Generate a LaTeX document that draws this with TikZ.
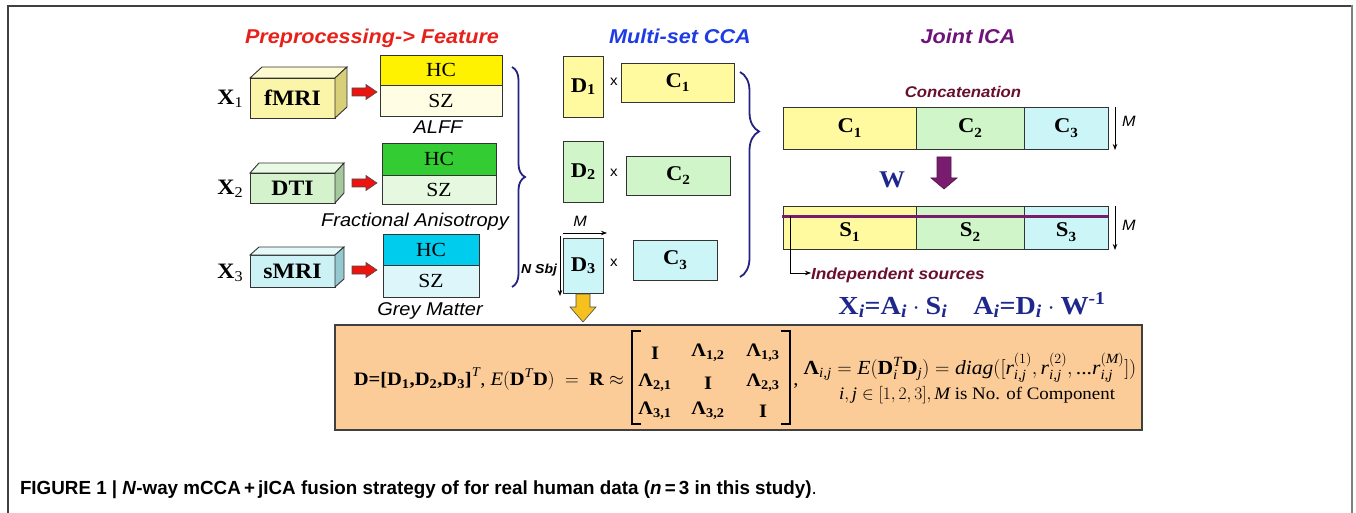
\RequirePackage{fix-cm}
\documentclass[tikz,border=0pt]{standalone}
\usepackage{fontspec}
\usepackage{amsmath}
\setmainfont{Liberation Serif}[FakeStretch=1.08]
\setsansfont{Liberation Sans}[FakeStretch=1.08]
\newfontfamily\capfont{Liberation Sans}[FakeStretch=0.99]
\usetikzlibrary{decorations.pathreplacing,arrows.meta}

\newcommand{\setfs}[1]{\fontsize{#1}{#1}\selectfont}

\definecolor{titlered}{RGB}{232,32,26}
\definecolor{titleblue}{RGB}{30,60,230}
\definecolor{titlepurple}{RGB}{110,20,120}
\definecolor{srcmaroon}{RGB}{105,15,45}
\definecolor{bracenavy}{RGB}{35,35,130}
\definecolor{formulanavy}{RGB}{30,40,140}
\definecolor{ylwfront}{RGB}{250,245,168}
\definecolor{ylwtop}{RGB}{253,250,208}
\definecolor{ylwside}{RGB}{215,208,120}
\definecolor{grnfront}{RGB}{212,242,204}
\definecolor{grntop}{RGB}{232,249,228}
\definecolor{grnside}{RGB}{165,200,158}
\definecolor{cyanfront}{RGB}{204,242,246}
\definecolor{cyantop}{RGB}{228,249,250}
\definecolor{cyanside}{RGB}{150,200,208}
\definecolor{hcyellow}{RGB}{255,242,0}
\definecolor{szyellow}{RGB}{255,253,228}
\definecolor{hcgreen}{RGB}{51,204,51}
\definecolor{szgreen}{RGB}{230,248,224}
\definecolor{hccyan}{RGB}{0,204,238}
\definecolor{szcyan}{RGB}{221,246,250}
\definecolor{paleyellow}{RGB}{255,250,160}
\definecolor{palegreen}{RGB}{208,245,200}
\definecolor{palecyan}{RGB}{204,245,248}
\definecolor{peach}{RGB}{251,203,152}
\definecolor{arrowred}{RGB}{235,20,15}
\definecolor{arrowgold}{RGB}{246,192,30}
\definecolor{arrowplum}{RGB}{122,28,110}

\begin{document}
\begin{tikzpicture}[x=1pt,y=-1pt,
  lbl/.style={inner sep=0pt, outer sep=0pt},
  rectbox/.style={draw=black!80, line width=0.9pt, inner sep=0pt, outer sep=0pt},
  titlefont/.style={lbl, font=\sffamily\bfseries\itshape\setfs{20}},
  modfont/.style={lbl, font=\rmfamily\bfseries\setfs{22}},
  grpfont/.style={lbl, font=\rmfamily\setfs{20}},
  featfont/.style={lbl, font=\sffamily\itshape\setfs{18.5}},
  cfont/.style={font=\rmfamily\bfseries\setfs{21}},
  timesfont/.style={lbl, font=\sffamily\setfs{14}},
  dimfont/.style={lbl, font=\sffamily\itshape\setfs{15}},
  eqfont/.style={lbl, font=\rmfamily\setfs{19}},
  blockarrow/.style={draw=black!70, line width=0.6pt},
  brace/.style={decorate, draw=bracenavy, line width=1.8pt},
  thinarrow/.style={draw=black, line width=0.8pt, -{Stealth[length=6pt,width=4.5pt]}}
]
\useasboundingbox (0,0) rectangle (1356,513);

% page frame
\draw[black!75, line width=1.2pt] (8,513) -- (8,6) -- (1351,6);
\draw[black!50, line width=2.6pt] (1352,5) -- (1352,513);

% column titles
\node[titlefont, text=titlered, anchor=base] (ttlpre) at (372,44) {Preprocessing-> Feature};
\node[titlefont, text=titleblue, anchor=base] (ttlcca) at (680,44) {Multi-set CCA};
\node[titlefont, text=titlepurple, anchor=base] (ttlica) at (968,44) {Joint ICA};

% ---------- modalities ----------
\node[modfont] (x1) at (230,99) {X\raisebox{-0.35ex}{\mdseries\setfs{15}1}};
\node[modfont] (x2) at (230,189) {X\raisebox{-0.35ex}{\mdseries\setfs{15}2}};
\node[modfont] (x3) at (230,273) {X\raisebox{-0.35ex}{\mdseries\setfs{15}3}};

\node[rectbox, fill=ylwfront, minimum width=85, minimum height=40] (fmri) at (292.5,98) {};
\draw[rectbox, fill=ylwtop] (fmri.north west) -- ++(12,-11) -- ++(85,0) -- (fmri.north east) -- cycle;
\draw[rectbox, fill=ylwside] (fmri.north east) -- ++(12,-11) -- ++(0,40) -- (fmri.south east) -- cycle;
\node[modfont] at (fmri) {fMRI};

\node[rectbox, fill=grnfront, minimum width=85, minimum height=30] (dti) at (292.5,188) {};
\draw[rectbox, fill=grntop] (dti.north west) -- ++(9,-10) -- ++(85,0) -- (dti.north east) -- cycle;
\draw[rectbox, fill=grnside] (dti.north east) -- ++(9,-10) -- ++(0,30) -- (dti.south east) -- cycle;
\node[modfont] at (dti) {DTI};

\node[rectbox, fill=cyanfront, minimum width=85, minimum height=32] (smri) at (292.5,271) {};
\draw[rectbox, fill=cyantop] (smri.north west) -- ++(9,-8) -- ++(85,0) -- (smri.north east) -- cycle;
\draw[rectbox, fill=cyanside] (smri.north east) -- ++(9,-8) -- ++(0,32) -- (smri.south east) -- cycle;
\node[modfont] at (smri) {sMRI};

% red block arrows
\foreach \c in {92,183,270}{
  \draw[blockarrow, fill=arrowred] (352,\c-4) -- (366,\c-4) -- (366,\c-7.5) -- (377,\c) -- (366,\c+7.5) -- (366,\c+4) -- (352,\c+4) -- cycle;
}

% feature maps, HC above SZ
\node[rectbox, fill=hcyellow, minimum width=122, minimum height=30] (hc1) at (441,70) {};
\node[rectbox, fill=szyellow, minimum width=122, minimum height=31, anchor=north] (sz1) at (hc1.south) {};
\node[grpfont] at (hc1) {HC};
\node[grpfont] at (sz1) {SZ};
\node[featfont, anchor=base] (alff) at (438,134) {ALFF};

\node[rectbox, fill=hcgreen, minimum width=114, minimum height=32] (hc2) at (439,159) {};
\node[rectbox, fill=szgreen, minimum width=114, minimum height=29, anchor=north] (sz2) at (hc2.south) {};
\node[grpfont] at (hc2) {HC};
\node[grpfont] at (sz2) {SZ};
\node[featfont, anchor=base] (fa) at (415,226) {Fractional Anisotropy};

\node[rectbox, fill=hccyan, minimum width=96, minimum height=31] (hc3) at (431,249.5) {};
\node[rectbox, fill=szcyan, minimum width=96, minimum height=32, anchor=north] (sz3) at (hc3.south) {};
\node[grpfont] at (hc3) {HC};
\node[grpfont] at (sz3) {SZ};
\node[featfont, anchor=base] (gm) at (430,315) {Grey Matter};

\draw[brace, decoration={brace, amplitude=13pt}] (512,67) -- (512,287);

% ---------- multi-set CCA ----------
\node[rectbox, fill=paleyellow, minimum width=40, minimum height=61] (d1) at (583,86.5) {};
\node[cfont] at (d1) {D\raisebox{-0.2ex}{\setfs{15}1}};
\node[timesfont] (m1) at (614,82) {x};
\node[rectbox, fill=paleyellow, minimum width=113, minimum height=39, cfont] (c1) at (677.5,82.5) {C\raisebox{-0.45ex}{\setfs{14}1}};

\node[rectbox, fill=palegreen, minimum width=40, minimum height=61] (d2) at (583,171.5) {};
\node[cfont] at (d2) {D\raisebox{-0.2ex}{\setfs{15}2}};
\node[timesfont] (m2) at (614,173) {x};
\node[rectbox, fill=palegreen, minimum width=104, minimum height=39, cfont] (c2) at (678,175.5) {C\raisebox{-0.45ex}{\setfs{14}2}};

\node[rectbox, fill=palecyan, minimum width=40, minimum height=55] (d3) at (583,265.5) {};
\node[cfont] at (d3) {D\raisebox{-0.2ex}{\setfs{15}3}};
\node[timesfont] (m3) at (614,263) {x};
\node[rectbox, fill=palecyan, minimum width=84, minimum height=40, cfont] (c3) at (675,260) {C\raisebox{-0.45ex}{\setfs{14}3}};

% dimensions of D3
\coordinate (dcorner) at (560,233);
\draw[thinarrow] (dcorner) ++(3,0) -- (607,233);
\draw[thinarrow] (dcorner) ++(0,3) -- (560,296);
\node[dimfont, anchor=base] (mlab) at (580,226) {M};
\node[lbl, font=\sffamily\bfseries\itshape\setfs{13}, anchor=base east] (nsbj) at (557,273) {N Sbj};

% gold arrow down to the correlation box
\draw[blockarrow, fill=arrowgold] (576,294) -- (590,294) -- (590,307) -- (596,307) -- (583,322) -- (570,307) -- (576,307) -- cycle;

\draw[brace, decoration={brace, amplitude=19pt, aspect=0.29}] (740,72) -- (740,277);

% ---------- joint ICA ----------
\node[lbl, font=\sffamily\bfseries\itshape\setfs{15.5}, text=srcmaroon, anchor=base] (concat) at (963,98) {Concatenation};

\node[rectbox, fill=paleyellow, minimum width=133, minimum height=42, cfont] (cc1) at (849.5,128) {C\raisebox{-0.45ex}{\setfs{14}1}};
\node[rectbox, fill=palegreen, minimum width=108, minimum height=42, cfont] (cc2) at (970,128) {C\raisebox{-0.45ex}{\setfs{14}2}};
\node[rectbox, fill=palecyan, minimum width=84, minimum height=42, cfont] (cc3) at (1066,128) {C\raisebox{-0.45ex}{\setfs{14}3}};
\draw[thinarrow] (1115,107) -- (1115,150);
\node[dimfont, anchor=base west] (mc) at (1122,127) {M};

\node[lbl, font=\rmfamily\bfseries\setfs{24}, text=formulanavy] (wlab) at (892,180) {W};
\draw[blockarrow, fill=arrowplum, draw=arrowplum!70!black] (937,157) -- (951,157) -- (951,178) -- (957,178) -- (944,189) -- (931,178) -- (937,178) -- cycle;

\node[rectbox, fill=paleyellow, minimum width=133, minimum height=43] (s1) at (849.5,227.5) {};
\node[rectbox, fill=palegreen, minimum width=108, minimum height=43] (s2) at (970,227.5) {};
\node[rectbox, fill=palecyan, minimum width=84, minimum height=43] (s3) at (1066,227.5) {};
\node[cfont] at (849.5,232) {S\raisebox{-0.45ex}{\setfs{14}1}};
\node[cfont] at (970,232) {S\raisebox{-0.45ex}{\setfs{14}2}};
\node[cfont] at (1066,232) {S\raisebox{-0.45ex}{\setfs{14}3}};
\coordinate (srcl) at (782,216);
\coordinate (srcr) at (1108,216);
\draw[draw=arrowplum, line width=3pt] (srcl) -- (srcr);
\draw[thinarrow] (1115,206) -- (1115,250);
\node[dimfont, anchor=base west] (ms) at (1122,230) {M};

\coordinate (srcdrop) at (790,216);
\node[lbl, font=\sffamily\bfseries\itshape\setfs{16}, text=srcmaroon, anchor=base west] (indep) at (811,279) {Independent sources};
\draw[thinarrow, line width=0.7pt] (srcdrop) |- (indep.west |- 0,273);

\node[lbl, font=\rmfamily\bfseries\setfs{26}, text=formulanavy] (mix) at (972,305)
  {$\textbf{X}_{\textit{i}}\textbf{=}\textbf{A}_{\textit{i}}\cdot\textbf{S}_{\textit{i}}\quad\textbf{A}_{\textit{i}}\textbf{=}\textbf{D}_{\textit{i}}\cdot\textbf{W}^{\textbf{-1}}$};

% ---------- correlation structure ----------
\node[draw=black!75, line width=1.3pt, fill=peach, minimum width=807, minimum height=105, inner sep=0pt] (corr) at (738.5,377.5) {};

\node[eqfont, anchor=base east] (dstack) at (624,385)
  {$\textbf{D=[D}_{\textbf{1}}\textbf{,D}_{\textbf{2}}\textbf{,D}_{\textbf{3}}\textbf{]}^{\textit{T}}$, $\textit{E}(\textbf{D}^{\textit{T}}\textbf{D})\ =\ \textbf{R}\approx$};

\draw[line width=1.1pt] (641,331) -- (632,331) -- (632,424) -- (641,424);
\draw[line width=1.1pt] (781,331) -- (790,331) -- (790,424) -- (781,424);
\begin{scope}[every node/.style={eqfont}]
  \node (r11) at (655,353) {\textbf{I}};
  \node (r12) at (708,353) {$\textbf{Λ}_{\textbf{1,2}}$};
  \node (r13) at (763,353) {$\textbf{Λ}_{\textbf{1,3}}$};
  \node (r21) at (655,383) {$\textbf{Λ}_{\textbf{2,1}}$};
  \node (r22) at (708,383) {\textbf{I}};
  \node (r23) at (763,383) {$\textbf{Λ}_{\textbf{2,3}}$};
  \node (r31) at (655,411) {$\textbf{Λ}_{\textbf{3,1}}$};
  \node (r32) at (708,411) {$\textbf{Λ}_{\textbf{3,2}}$};
  \node (r33) at (763,411) {\textbf{I}};
\end{scope}
\node[eqfont, anchor=base] (comma) at (796,385) {,};

\node[lbl, font=\rmfamily\setfs{20}] (lamdef) at (970,368)
  {$\textbf{Λ}_{\textit{i,j}} = \textit{E}(\textbf{D}_{\textit{i}}^{\textit{T}}\textbf{D}_{\textit{j}}) = \textit{diag}([\textit{r}_{\textit{i,j}}^{(1)},\textit{r}_{\textit{i,j}}^{(2)},\textrm{...}\textit{r}_{\textit{i,j}}^{(\textit{M})}])$};
\node[lbl, font=\rmfamily\setfs{17.5}] (ijdef) at (977,395)
  {$\textit{i}, \textit{j}\in[1,2,3], \textit{M}$ is No. of Component};

% caption
\node[lbl, anchor=base west, font=\capfont\setfs{19}] (cap) at (20,494)
  {\bfseries FIGURE 1 | \textit{N}-way mCCA\,+\,jICA fusion strategy of for real human data (\textit{n}\,=\,3 in this study)\mdseries.};
\end{tikzpicture}
\end{document}
